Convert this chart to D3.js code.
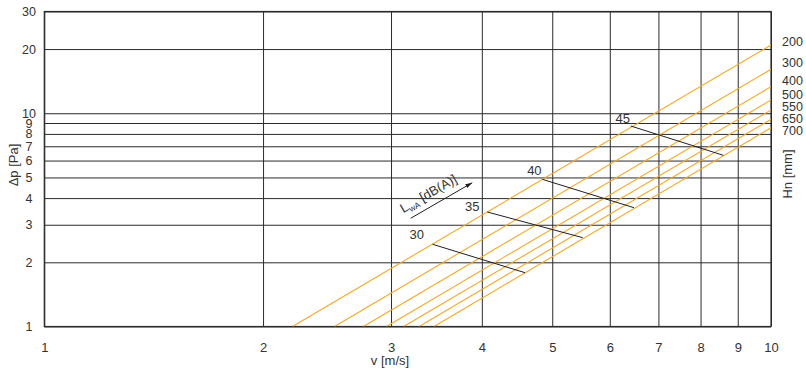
<!DOCTYPE html>
<html><head><meta charset="utf-8">
<script src="https://cdn.jsdelivr.net/npm/d3@7"></script>
<style>
body{margin:0;background:#fff}
svg{display:block}
text{font-family:"Liberation Sans",Arial,Helvetica,sans-serif;fill:#333}
</style>
</head><body><svg id="c" width="806" height="372"></svg>
<script>
// ---- data ----
const xTicks = [1,2,3,4,5,6,7,8,9,10];
const yTicks = [1,2,3,4,5,6,7,8,9,10,20,30];
const hnLabels = ["200","300","400","500","550","650","700"];
const hnStartV = [2.195,2.508,2.748,2.957,3.122,3.279,3.438];   // v where Δp = 1
const hnEndDp  = [20.89,16.07,13.32,11.54,10.36,9.37,8.55];      // Δp at v = 10
const lwaLabels = ["30","35","40","45"];
const lwaStart = [[3.423,2.429],[4.070,3.443],[4.846,4.899],[6.411,8.714]];
const lwaEnd   = [[4.586,1.788],[5.507,2.609],[6.478,3.606],[8.599,6.35]];
const arrowStart = [3.193,3.217], arrowEnd = [3.881,4.725];

// ---- layout ----
const L = 44.3, R = 771, T = 11.5, B = 326.5;
const x = d3.scaleLog().domain([1,10]).range([L,R]);
const y = d3.scaleLog().domain([1,30]).range([B,T]);
const svg = d3.select("#c");
const gridColor = "#2b2b2b", orange = "#F7A823";

// vertical grid + x tick labels
const gx = svg.append("g").attr("transform",`translate(0,${B})`)
  .call(d3.axisBottom(x).tickValues(xTicks).tickSize(-(B-T)).tickPadding(16).tickFormat(d3.format("d")));
gx.select(".domain").remove();
gx.selectAll(".tick line").attr("stroke",gridColor).attr("stroke-width",1);
gx.selectAll(".tick text").attr("font-size",13).attr("font-family",null).attr("fill","#333");

// horizontal grid + y tick labels
const gy = svg.append("g").attr("transform",`translate(${L},0)`)
  .call(d3.axisLeft(y).tickValues(yTicks).tickSize(-(R-L)).tickPadding(15).tickFormat(d3.format("d")));
gy.select(".domain").remove();
gy.selectAll(".tick line").attr("stroke",gridColor).attr("stroke-width",1);
gy.selectAll(".tick text").attr("font-size",12.5).attr("font-family",null).attr("fill","#333")
  .attr("text-anchor","middle").attr("x",-15.3);

// frame
svg.append("rect").attr("x",L).attr("y",T).attr("width",R-L).attr("height",B-T)
  .attr("fill","none").attr("stroke",gridColor).attr("stroke-width",1.2);

// Hn lines
const line = d3.line().x(d=>x(d[0])).y(d=>y(d[1]));
svg.append("clipPath").attr("id","pc").append("rect")
  .attr("x",L).attr("y",T).attr("width",R-L).attr("height",B-T);
svg.append("g").attr("clip-path","url(#pc)").selectAll("path").data(hnLabels).join("path")
  .attr("d",(d,i)=>line([[hnStartV[i],1],[10,hnEndDp[i]]]))
  .attr("fill","none").attr("stroke",orange).attr("stroke-width",1.1);

// Hn labels
const hnLabelY = [41.7,62,80.7,94.7,106,118.3,130.7];
svg.append("g").selectAll("text").data(hnLabels).join("text")
  .attr("x",782).attr("y",(d,i)=>hnLabelY[i]).attr("dy","0.36em")
  .attr("font-size",12.5).text(d=>d);

// sound level lines
svg.append("g").selectAll("path").data(lwaLabels).join("path")
  .attr("d",(d,i)=>line([lwaStart[i],lwaEnd[i]]))
  .attr("fill","none").attr("stroke","#1f1f1f").attr("stroke-width",1);
const lwaOff = [[-16,-10],[-15,-6],[-8,-8.6],[-8,-7.7]];
svg.append("g").selectAll("text").data(lwaLabels).join("text")
  .attr("x",(d,i)=>x(lwaStart[i][0])+lwaOff[i][0])
  .attr("y",(d,i)=>y(lwaStart[i][1])+lwaOff[i][1])
  .attr("dy","0.36em").attr("text-anchor","middle").attr("font-size",13).text(d=>d);

// arrow annotation
svg.append("defs").append("marker").attr("id","ah").attr("viewBox","0 0 10 10")
  .attr("refX",10).attr("refY",5).attr("markerWidth",7).attr("markerHeight",7)
  .attr("markerUnits","userSpaceOnUse").attr("orient","auto")
  .append("path").attr("d","M0,2 L10,5 L0,8 Z").attr("fill","#1f1f1f");
svg.append("path").attr("d",line([arrowStart,arrowEnd]))
  .attr("stroke","#1f1f1f").attr("stroke-width",1).attr("fill","none").attr("marker-end","url(#ah)");
const ax0 = x(arrowStart[0]), ay0 = y(arrowStart[1]);
const ang = Math.atan2(y(arrowEnd[1])-ay0, x(arrowEnd[0])-ax0);
const tx = ax0 + 8*Math.sin(ang) - 4*Math.cos(ang), ty = ay0 - 8*Math.cos(ang) - 4*Math.sin(ang);
const lt = svg.append("text").attr("transform",`translate(${tx},${ty}) rotate(${ang*180/Math.PI})`).attr("font-size",13);
lt.append("tspan").text("L");
lt.append("tspan").attr("font-size",8.5).attr("dy",3).text("wA");
lt.append("tspan").attr("dy",-3).text(" [dB(A)]");

// axis titles
svg.append("text").attr("x",390).attr("y",365).attr("text-anchor","middle").attr("font-size",13).text("v [m/s]");
svg.append("text").attr("transform","translate(18,165) rotate(-90)").attr("text-anchor","middle").attr("font-size",13).text("Δp [Pa]");
svg.append("text").attr("transform","translate(792,174) rotate(-90)").attr("text-anchor","middle").attr("font-size",13).text("Hn [mm]");
</script>
</body></html>
